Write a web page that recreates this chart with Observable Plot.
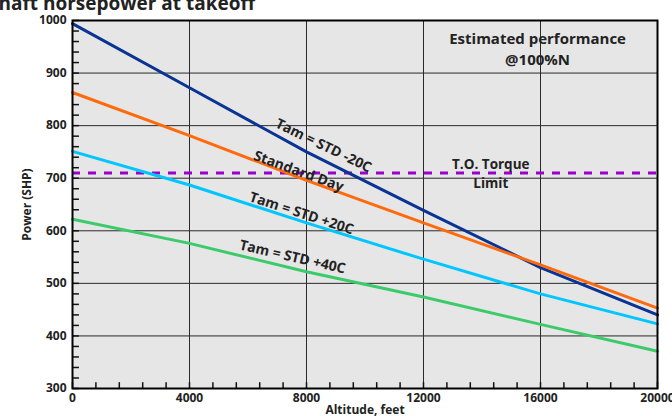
<!DOCTYPE html>
<html>
<head>
<meta charset="utf-8">
<script src="https://cdn.jsdelivr.net/npm/d3@7"></script>
<script src="https://cdn.jsdelivr.net/npm/@observablehq/plot@0.6"></script>
<style>
  html, body { margin: 0; padding: 0; background: #fff; }
  #wrap { position: relative; width: 672px; height: 416px; overflow: hidden; }
  #title { position: absolute; left: -12px; top: -6px; font: 700 19px/19px "Open Sans", sans-serif; color: #222; white-space: nowrap; z-index: 2; }
  #chart { position: absolute; left: 0; top: 0; }
</style>
</head>
<body>
<div id="wrap">
  <div id="title">Shaft horsepower at takeoff</div>
  <div id="chart"></div>
</div>
<script>
// Data
const altitudes = [0, 4000, 8000, 12000, 16000, 20000];
const stdMinus20 = [994, 872, 750, 639, 530, 440];
const standardDay = [863, 781, 696, 615, 535, 453];
const stdPlus20 = [751, 687, 615, 546, 480, 423];
const stdPlus40 = [622, 576, 522, 474, 422, 371];
const torqueLimit = 710;

const seriesNames = ["Tam = STD -20C", "Standard Day", "Tam = STD +20C", "Tam = STD +40C"];
const seriesValues = [stdMinus20, standardDay, stdPlus20, stdPlus40];
const seriesColors = ["#0a3494", "#ff6a0d", "#00c6ff", "#3ccb6a"];

const xTicks = [0, 4000, 8000, 12000, 16000, 20000];
const yTicks = [300, 400, 500, 600, 700, 800, 900, 1000];
const xMinorTicks = d3.range(0, 20001, 800);
const yMinorTicks = d3.range(300, 1001, 20);

const rows = seriesNames.flatMap((name, i) =>
  altitudes.map((a, j) => ({series: name, altitude: a, power: seriesValues[i][j]}))
);

const lineLabels = [
  {text: "Tam = STD -20C", altitude: 8580, power: 762, rotate: 26},
  {text: "Standard Day", altitude: 7730, power: 713, rotate: 20},
  {text: "Tam = STD +20C", altitude: 7830, power: 633, rotate: 18},
  {text: "Tam = STD +40C", altitude: 7520, power: 550, rotate: 13}
];

const chart = Plot.plot({
  width: 672,
  height: 416,
  marginLeft: 72,
  marginRight: 15,
  marginTop: 20,
  marginBottom: 28,
  style: {fontFamily: "'Open Sans', sans-serif", fontWeight: 700, fontSize: "12px", color: "#222", background: "transparent"},
  x: {domain: [0, 20000]},
  y: {domain: [300, 1000]},
  color: {domain: seriesNames, range: seriesColors},
  marks: [
    Plot.frame({fill: "#e6e6e6", stroke: null}),
    Plot.gridX(xTicks, {stroke: "#2a2a2a", strokeOpacity: 1, strokeWidth: 1}),
    Plot.gridY(yTicks, {stroke: "#2a2a2a", strokeOpacity: 1, strokeWidth: 1}),
    // inward minor ticks
    Plot.link(xMinorTicks, {x1: d => d, x2: d => d, y1: () => 300, y2: () => 312, stroke: "#111", strokeWidth: 1.5}),
    Plot.link(yMinorTicks, {y1: d => d, y2: d => d, x1: () => 0, x2: () => 220, stroke: "#111", strokeWidth: 1.5}),
    Plot.axisX(xTicks, {anchor: "bottom", tickSize: 0, tickPadding: 5, tickFormat: d => String(d),
      label: "Altitude, feet", labelAnchor: "center", labelOffset: 25, labelArrow: "none", fontSize: 12, fontWeight: 700}),
    Plot.axisY(yTicks, {anchor: "left", tickSize: 0, tickPadding: 6, tickFormat: d => String(d),
      label: "Power (SHP)", labelAnchor: "center", labelOffset: 50, labelArrow: "none", fontSize: 12, fontWeight: 700}),
    Plot.ruleY([torqueLimit], {stroke: "#9a00cc", strokeWidth: 3, strokeDasharray: "8,8"}),
    Plot.line(rows, {x: "altitude", y: "power", z: "series", stroke: "series", strokeWidth: 3}),
    Plot.frame({stroke: "#000", strokeWidth: 2}),
    Plot.text(lineLabels, {x: "altitude", y: "power", text: "text", rotate: "rotate", fontSize: 14, fontWeight: 700, fill: "#222"}),
    Plot.text(["Estimated performance\n@100%N"], {x: 15900, y: 1000, dy: 9, lineAnchor: "top", lineHeight: 1.4, fontSize: 15, fontWeight: 700, fill: "#222"}),
    Plot.text(["T.O. Torque"], {x: 14300, y: torqueLimit, dy: -4, lineAnchor: "bottom", fontSize: 13.5, fontWeight: 700, fill: "#222"}),
    Plot.text(["Limit"], {x: 14300, y: torqueLimit, dy: 5, lineAnchor: "top", fontSize: 13.5, fontWeight: 700, fill: "#222"})
  ]
});
document.getElementById("chart").appendChild(chart);
</script>
</body>
</html>
